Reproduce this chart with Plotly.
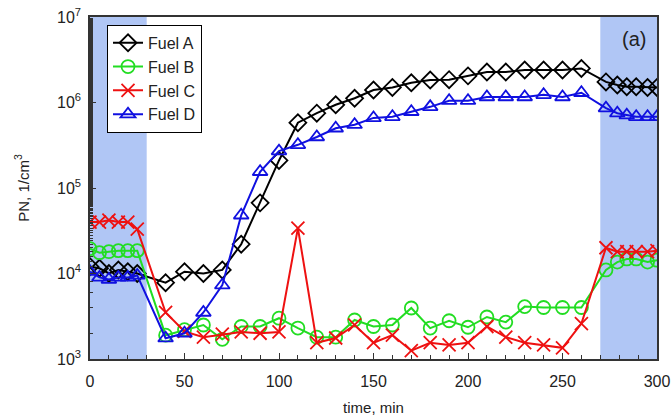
import plotly.graph_objects as go

t_left = [0, 5, 10, 15, 20, 25]
t_mid = [40, 50, 60, 70, 80, 90, 100, 110, 120, 130, 140, 150, 160, 170, 180, 190,
         200, 210, 220, 230, 240, 250, 260]
t_right = [273, 279, 284, 289, 295, 300]
time = t_left + t_mid + t_right

fuel_a = [1.2e4, 1.15e4, 1.0e4, 1.1e4, 1.05e4, 1.0e4,
          7.8e3, 1.05e4, 1.0e4, 1.1e4, 2.2e4, 6.7e4, 2.1e5, 5.8e5, 7.5e5, 9.4e5, 1.12e6,
          1.4e6, 1.5e6, 1.7e6, 1.83e6, 1.85e6, 2.05e6, 2.27e6, 2.27e6, 2.4e6, 2.4e6, 2.4e6, 2.5e6,
          1.74e6, 1.6e6, 1.53e6, 1.53e6, 1.5e6, 1.5e6]
fuel_b = [1.95e4, 1.75e4, 1.8e4, 1.85e4, 1.85e4, 1.85e4,
          1.9e3, 2.2e3, 2.5e3, 1.7e3, 2.4e3, 2.4e3, 3.0e3, 2.3e3, 1.8e3, 1.8e3, 2.86e3,
          2.4e3, 2.5e3, 3.95e3, 2.3e3, 2.8e3, 2.35e3, 3.1e3, 2.7e3, 4.1e3, 4.0e3, 4.0e3, 4.0e3,
          1.1e4, 1.36e4, 1.48e4, 1.48e4, 1.36e4, 1.43e4]
fuel_c = [4.0e4, 4.0e4, 4.2e4, 4.0e4, 4.0e4, 3.3e4,
          3.5e3, 2.1e3, 1.8e3, 1.95e3, 2.07e3, 2.0e3, 2.07e3, 3.4e4, 1.55e3, 1.76e3, 2.5e3,
          1.55e3, 1.9e3, 1.25e3, 1.55e3, 1.46e3, 1.55e3, 2.4e3, 1.8e3, 1.55e3, 1.46e3, 1.35e3, 2.6e3,
          2.0e4, 1.8e4, 1.8e4, 1.8e4, 1.8e4, 1.85e4]
fuel_d = [1.05e4, 9.0e3, 8.5e3, 9.0e3, 9.0e3, 9.5e3,
          1.75e3, 2.0e3, 3.5e3, 7.3e3, 4.8e4, 1.55e5, 2.7e5, 3.2e5, 3.95e5, 5.0e5, 5.5e5,
          6.6e5, 6.8e5, 7.8e5, 8.9e5, 1.05e6, 1.05e6, 1.16e6, 1.16e6, 1.16e6, 1.23e6, 1.16e6, 1.3e6,
          8.6e5, 7.5e5, 7.1e5, 6.8e5, 6.8e5, 6.8e5]

y_tickvals = [1e3, 1e4, 1e5, 1e6, 1e7]
y_ticktext = ["10<sup>3</sup>", "10<sup>4</sup>", "10<sup>5</sup>", "10<sup>6</sup>", "10<sup>7</sup>"]
shade_ranges = [(0, 30), (270, 300)]

series = [
    ("Fuel A", fuel_a, "black", "diamond-open"),
    ("Fuel B", fuel_b, "#22dd22", "circle-open"),
    ("Fuel C", fuel_c, "#ee1111", "x-thin-open"),
    ("Fuel D", fuel_d, "#1010e0", "triangle-up-open"),
]

fig = go.Figure()
for name, vals, color, sym in series:
    fig.add_trace(go.Scatter(
        x=time, y=vals, name=name, mode="lines+markers",
        line=dict(color=color, width=2),
        marker=dict(symbol=sym, size=13, color=color, line=dict(color=color, width=1.8)),
    ))

for x0, x1 in shade_ranges:
    fig.add_shape(type="rect", xref="x", yref="paper", x0=x0, x1=x1, y0=0, y1=1,
                  fillcolor="rgb(176,198,245)", line=dict(width=0), layer="below")

font = "Liberation Sans, Arial, sans-serif"
fig.update_layout(
    width=671, height=418,
    margin=dict(l=90, r=14, t=17, b=59),
    paper_bgcolor="white", plot_bgcolor="white",
    font=dict(family=font, size=16, color="#222"),
    showlegend=True,
    legend=dict(x=0.03, y=0.977, xanchor="left", yanchor="top",
                bordercolor="black", borderwidth=1, bgcolor="white",
                font=dict(size=16, color="#222"), tracegroupgap=0, itemwidth=30),
    xaxis=dict(range=[0, 300], tickvals=[0, 50, 100, 150, 200, 250, 300],
               ticks="inside", ticklen=6, tickcolor="#333", showline=True, linecolor="#333",
               linewidth=1.5, mirror=True, showgrid=False, zeroline=False, automargin=False,
               ticklabelstandoff=7,
               minor=dict(dtick=10, ticks="inside", ticklen=4, tickcolor="#333"),
               title=dict(text="time, min", font=dict(size=15), standoff=14)),
    yaxis=dict(type="log", range=[3, 7], tickvals=y_tickvals, ticktext=y_ticktext,
               ticks="inside", ticklen=6, tickcolor="#333", showline=True, linecolor="#333",
               linewidth=1.5, mirror=True, showgrid=False, zeroline=False, automargin=False,
               ticklabelstandoff=4,
               minor=dict(ticks="inside", ticklen=3, tickcolor="#333"),
               title=dict(text="PN, 1/cm<sup>3</sup>", font=dict(size=15), standoff=24)),
)
fig.add_annotation(x=0.985, y=0.975, xref="paper", yref="paper", text="(a)",
                   showarrow=False, xanchor="right", yanchor="top",
                   font=dict(size=20, color="#222", family=font))

fig.write_html("out.html")
